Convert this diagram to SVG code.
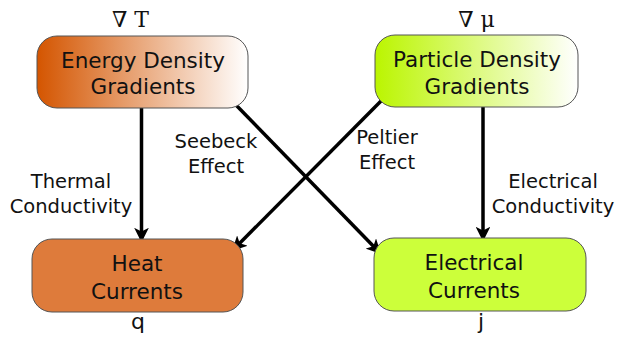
<svg xmlns="http://www.w3.org/2000/svg" width="618" height="342" viewBox="0 0 618 342">
  <defs>
    <linearGradient id="gradEnergy" x1="0" y1="0" x2="1" y2="0">
      <stop offset="0" stop-color="#d45500"/>
      <stop offset="1" stop-color="#ffffff"/>
    </linearGradient>
    <linearGradient id="gradParticle" x1="0" y1="0" x2="1" y2="0">
      <stop offset="0" stop-color="#bbf500"/>
      <stop offset="1" stop-color="#ffffff"/>
    </linearGradient>
    <marker id="arrow" viewBox="0 0 10 10" refX="9" refY="5" markerWidth="4.2" markerHeight="4.2" markerUnits="strokeWidth" orient="auto">
      <path d="M0,0 L10,5 L0,10 L2.5,5 z" fill="#000"/>
    </marker>
  </defs>
  <style>
    .box { stroke: #555; stroke-width: 1; }
    .node-text { font-family: "DejaVu Sans", sans-serif; font-size: 21.5px; fill: #111; text-anchor: middle; }
    .label { font-family: "DejaVu Sans", sans-serif; font-size: 19.5px; fill: #111; text-anchor: middle; }
    .sym { font-family: "DejaVu Serif", serif; font-size: 22px; fill: #111; text-anchor: middle; }
    .var { font-family: "DejaVu Sans", sans-serif; font-size: 22px; fill: #111; text-anchor: middle; }
    .edge { stroke: #000; stroke-width: 3.5; fill: none; marker-end: url(#arrow); }
  </style>

  <g id="connectors">
    <line class="edge" x1="141.5" y1="108" x2="141.5" y2="241"/>
    <line class="edge" x1="483" y1="107" x2="483" y2="240"/>
    <line class="edge" x1="235" y1="104" x2="380" y2="253"/>
    <line class="edge" x1="382" y1="100" x2="233" y2="250"/>
    <text class="label" x="216" y="148">Seebeck</text>
    <text class="label" x="216" y="173">Effect</text>
    <text class="label" x="387" y="144">Peltier</text>
    <text class="label" x="387" y="169">Effect</text>
    <text class="label" x="71" y="188">Thermal</text>
    <text class="label" x="71" y="213">Conductivity</text>
    <text class="label" x="553" y="188">Electrical</text>
    <text class="label" x="553" y="213">Conductivity</text>
  </g>

  <g id="energy-gradients">
    <text class="sym" x="130.5" y="27">∇ T</text>
    <rect class="box" x="37" y="36" width="211" height="72" rx="20" fill="url(#gradEnergy)"/>
    <text class="node-text" x="143" y="68">Energy Density</text>
    <text class="node-text" x="143" y="94">Gradients</text>
  </g>

  <g id="particle-gradients">
    <text class="sym" x="476.5" y="27">∇ μ</text>
    <rect class="box" x="375" y="35" width="203" height="72" rx="20" fill="url(#gradParticle)"/>
    <text class="node-text" x="477" y="67">Particle Density</text>
    <text class="node-text" x="477" y="94">Gradients</text>
  </g>

  <g id="heat-currents">
    <rect class="box" x="32" y="239" width="211" height="73" rx="20" fill="#de7b3b"/>
    <text class="node-text" x="137" y="271">Heat</text>
    <text class="node-text" x="137" y="299">Currents</text>
    <text class="var" x="138" y="329">q</text>
  </g>

  <g id="electrical-currents">
    <rect class="box" x="374" y="238" width="212" height="73" rx="20" fill="#ccff3a"/>
    <text class="node-text" x="474" y="270">Electrical</text>
    <text class="node-text" x="474" y="298">Currents</text>
    <text class="var" x="481" y="329">j</text>
  </g>
</svg>
